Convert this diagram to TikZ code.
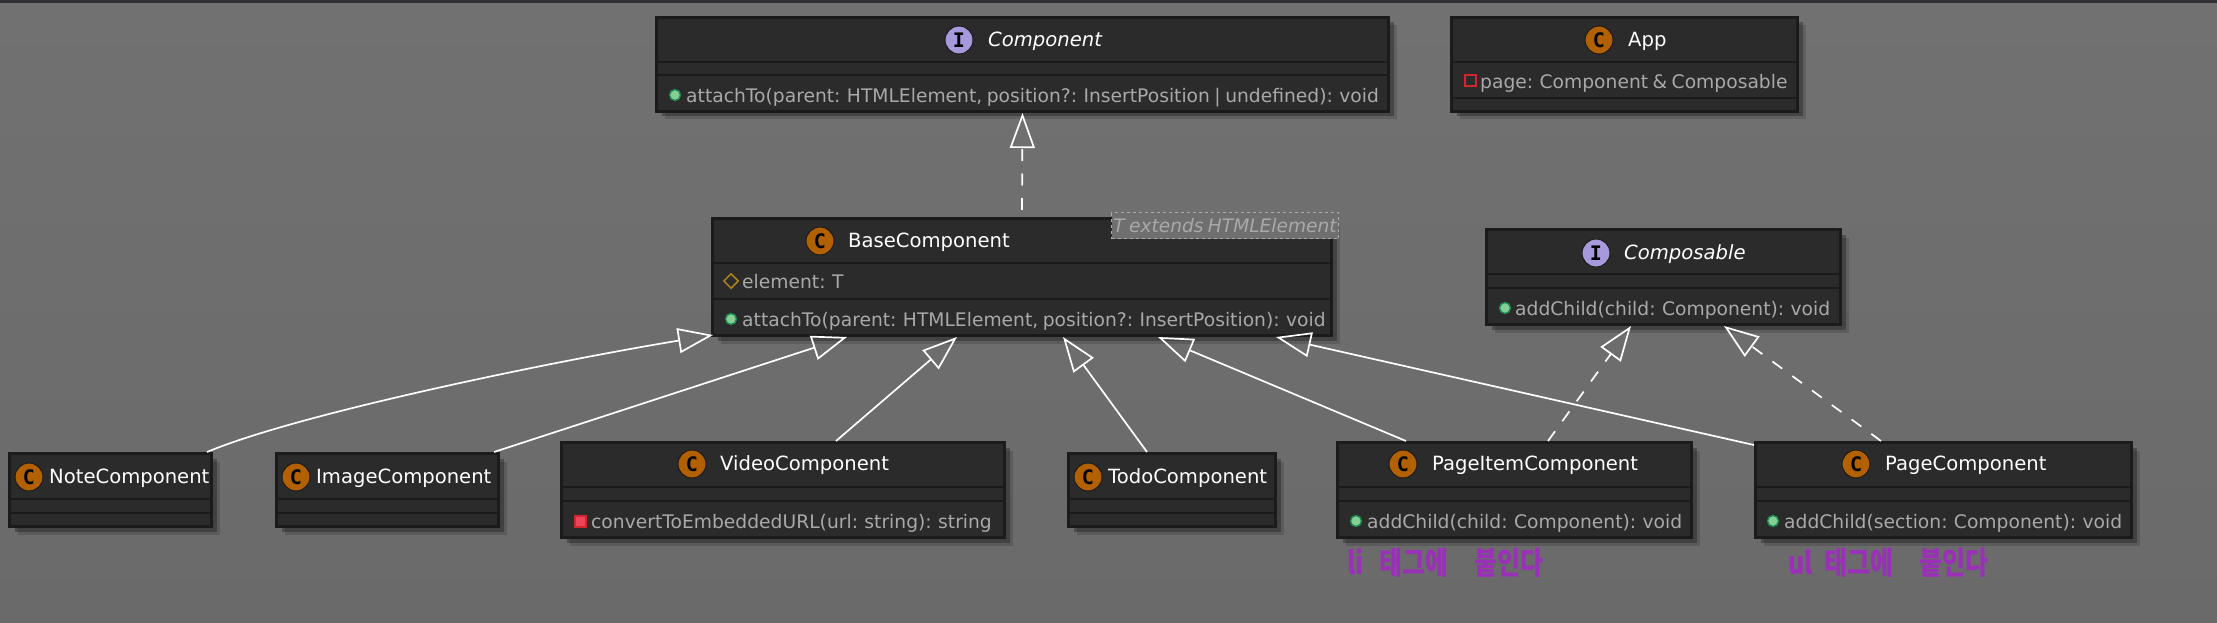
\documentclass[tikz,border=0pt]{standalone}
\usepackage{fontspec}
\usepackage{tikz}
\usetikzlibrary{arrows.meta}
\usetikzlibrary{shadows}
\usetikzlibrary{shapes.geometric}
\setmainfont[WordSpace=0.75]{DejaVu Sans}
\newfontfamily\spotfont{DejaVu Sans Mono}
\newfontfamily\hangul{Noto Sans CJK KR}
\definecolor{canvastop}{HTML}{717171}
\definecolor{canvasgray}{HTML}{6F6F6F}
\definecolor{canvasend}{HTML}{6A6A6A}
\definecolor{topbar}{HTML}{303034}
\definecolor{boxfill}{HTML}{2B2B2B}
\definecolor{boxline}{HTML}{1B1B1B}
\definecolor{membertext}{HTML}{A9A9A9}
\definecolor{spotorange}{HTML}{B36000}
\definecolor{spotlilac}{HTML}{A899DD}
\definecolor{pubgreen}{HTML}{84CF94}
\definecolor{publine}{HTML}{1F8A4F}
\definecolor{privred}{HTML}{D0262F}
\definecolor{methred}{HTML}{EC4458}
\definecolor{protgold}{HTML}{B0811F}
\definecolor{penpurple}{HTML}{9A2FB8}
\tikzstyle{classbox} = [rectangle, draw=boxline, line width=3pt, fill=boxfill, inner sep=0pt, anchor=north west, drop shadow={shadow xshift=8pt,shadow yshift=-8pt,opacity=.14,fill=black}, drop shadow={shadow xshift=5pt,shadow yshift=-5pt,opacity=.28,fill=black}]
\tikzstyle{classline} = [draw=boxline, line width=2.6pt]
\tikzstyle{spotc} = [circle, draw=boxline, line width=1pt, fill=spotorange, minimum width=28pt, inner sep=0pt, text=black, font=\spotfont\bfseries\fontsize{20}{20}\selectfont]
\tikzstyle{spoti} = [spotc, fill=spotlilac]
\tikzstyle{titletext} = [anchor=mid west, inner sep=0pt, yshift=-4pt, text=white, font=\fontsize{19.6}{20}\selectfont]
\tikzstyle{membertext} = [anchor=mid west, inner sep=0pt, yshift=-5pt, text=membertext, font=\fontsize{18.7}{20}\selectfont]
\tikzstyle{pub} = [circle, draw=publine, line width=1.4pt, fill=pubgreen, minimum width=11pt, inner sep=0pt]
\tikzstyle{priv} = [rectangle, draw=privred, line width=2pt, minimum width=11pt, minimum height=11pt, inner sep=0pt]
\tikzstyle{privm} = [priv, fill=methred]
\tikzstyle{prot} = [diamond, draw=protgold, line width=1.5pt, minimum width=15pt, minimum height=15pt, inner sep=0pt]
\tikzstyle{extend} = [draw=white, line width=1.7pt, -{Triangle[open,length=35pt,width=25pt]}]
\tikzstyle{realize} = [extend, dash pattern=on 12pt off 12.5pt]
\tikzstyle{handwrite} = [anchor=west, inner sep=0pt, yscale=1.25, transform shape, text=penpurple, font=\hangul\bfseries\fontsize{25}{26}\selectfont]

\begin{document}
\begin{tikzpicture}[x=1pt,y=-1pt]
	\useasboundingbox (0,0) rectangle (2217,623);
	\shade[top color=canvastop, bottom color=canvasend] (0,0) rectangle (2217,623);
	\fill[topbar] (0,0) rectangle (2217,3.5);

	\node[classbox, minimum width=732pt, minimum height=94pt] (component) at (655,16) {};
	\node[classbox, minimum width=346pt, minimum height=94pt] (app) at (1450,16) {};
	\node[classbox, minimum width=619pt, minimum height=117pt] (base) at (711,217) {};
	\node[classbox, minimum width=354pt, minimum height=95pt] (composable) at (1485,228) {};
	\node[classbox, minimum width=202pt, minimum height=73pt] (note) at (8,452) {};
	\node[classbox, minimum width=222pt, minimum height=73pt] (image) at (275,452) {};
	\node[classbox, minimum width=443pt, minimum height=95pt] (video) at (560,441) {};
	\node[classbox, minimum width=207pt, minimum height=73pt] (todo) at (1067,452) {};
	\node[classbox, minimum width=354pt, minimum height=95pt] (pageitem) at (1336,441) {};
	\node[classbox, minimum width=376pt, minimum height=95pt] (page) at (1754,441) {};

	\foreach \b/\y in {component/62,component/75,app/62,app/98,base/263,base/299,composable/274,composable/288,note/499,note/513,image/499,image/513,video/487,video/501,todo/499,todo/513,pageitem/487,pageitem/501,page/487,page/501}
		\draw[classline] (\b.west |- 0,\y) -- (\b.east |- 0,\y);

	\node[spoti] (componentspot) at (959,40) {I};
	\node[titletext, font=\itshape\fontsize{19.6}{20}\selectfont] (componenttitle) at (988,40) {Component};
	\node[pub] (componentpub) at (675,95) {};
	\node[membertext] (componentattach) at (686,95) {attachTo(parent: HTMLElement, position?: InsertPosition | undefined): void};

	\node[spotc] (appspot) at (1599,40) {C};
	\node[titletext] (apptitle) at (1628,40) {App};
	\node[priv] (apppriv) at (1470,81) {};
	\node[membertext] (apppage) at (1480,81) {page: Component \& Composable};

	\node[spotc] (basespot) at (820,241) {C};
	\node[titletext] (basetitle) at (848,241) {BaseComponent};
	\node[prot] (baseprot) at (731,281) {};
	\node[membertext] (baseelement) at (742,281) {element: T};
	\node[pub] (basepub) at (731,319) {};
	\node[membertext] (baseattach) at (742,319) {attachTo(parent: HTMLElement, position?: InsertPosition): void};
	\node[rectangle, draw=membertext, dashed, line width=1pt, fill=canvasgray, inner sep=0pt, minimum width=227pt, minimum height=26pt, anchor=north west] (basenote) at (1111,212) {};
	\node[membertext, anchor=mid, yshift=1pt, font=\itshape\fontsize{18.6}{19}\selectfont] (basegeneric) at (basenote) {T extends HTMLElement};

	\node[spoti] (composablespot) at (1596,253) {I};
	\node[titletext, font=\itshape\fontsize{19.6}{20}\selectfont] (composabletitle) at (1624,253) {Composable};
	\node[pub] (composablepub) at (1505,308) {};
	\node[membertext] (composableadd) at (1515,308) {addChild(child: Component): void};

	\node[spotc] (notespot) at (29,477) {C};
	\node[titletext] (notetitle) at (49,477) {NoteComponent};
	\node[spotc] (imagespot) at (296,477) {C};
	\node[titletext] (imagetitle) at (316,477) {ImageComponent};
	\node[spotc] (videospot) at (692,464) {C};
	\node[titletext] (videotitle) at (720,464) {VideoComponent};
	\node[privm] (videopriv) at (580,521) {};
	\node[membertext] (videoconvert) at (591,521) {convertToEmbeddedURL(url: string): string};
	\node[spotc] (todospot) at (1088,477) {C};
	\node[titletext] (todotitle) at (1108,477) {TodoComponent};
	\node[spotc] (pageitemspot) at (1403,464) {C};
	\node[titletext] (pageitemtitle) at (1432,464) {PageItemComponent};
	\node[pub] (pageitempub) at (1356,521) {};
	\node[membertext] (pageitemadd) at (1367,521) {addChild(child: Component): void};
	\node[spotc] (pagespot) at (1856,464) {C};
	\node[titletext] (pagetitle) at (1885,464) {PageComponent};
	\node[pub] (pagepub) at (1773,521) {};
	\node[membertext] (pageadd) at (1784,521) {addChild(section: Component): void};

	\node[handwrite] (litag) at (1347,563) {li\hspace{16pt}태그에\hspace{26pt}붙인다};
	\node[handwrite] (ultag) at (1788,563) {ul\hspace{12pt}태그에\hspace{26pt}붙인다};

	\draw[realize] ([yshift=7pt]base.north) -- (component.south);
	\draw[extend] ([xshift=-6pt]note.north east) .. controls (300,413) and (560,360) .. ([xshift=2pt,yshift=2pt]base.south west);
	\draw[extend] ([xshift=-6pt]image.north east) -- ([xshift=136pt]base.south west);
	\draw[extend] ([xshift=53pt]video.north) -- ([xshift=246pt]base.south west);
	\draw[extend] ([xshift=-25pt]todo.north) -- ([xshift=352pt]base.south west);
	\draw[extend] ([xshift=70pt]pageitem.north west) -- ([xshift=447pt]base.south west);
	\draw[extend] ([yshift=-4pt]page.north west) -- ([xshift=565pt]base.south west);
	\draw[realize] ([xshift=212pt]pageitem.north west) -- ([xshift=146pt]composable.south west);
	\draw[realize] ([xshift=127pt]page.north west) -- ([xshift=239pt]composable.south west);
\end{tikzpicture}
\end{document}
